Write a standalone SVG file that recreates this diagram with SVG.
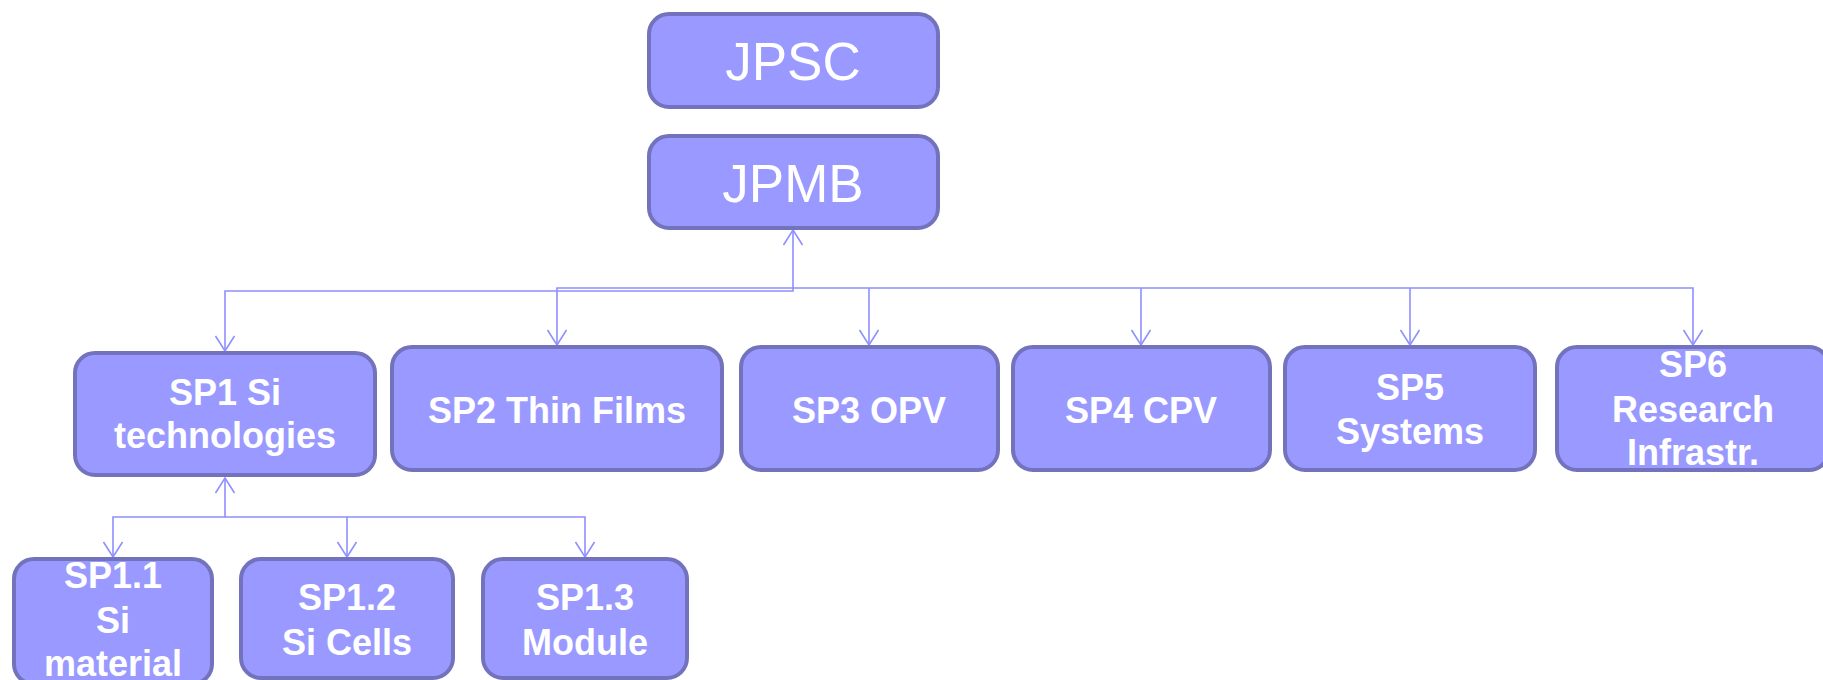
<svg xmlns="http://www.w3.org/2000/svg" width="1823" height="680" viewBox="0 0 1823 680">
  <style>
    .box { fill: #9999FF; stroke: #7373BD; stroke-width: 4; }
    .t { fill: #FFFFFF; font-family: "Liberation Sans", Arial, sans-serif; text-anchor: middle; }
    .big { font-size: 53px; }
    .sp { font-size: 36px; font-weight: bold; }
    .link { fill: none; stroke: #8F8FFF; stroke-width: 1.6; }
  </style>
  <defs>
    <marker id="arr" markerUnits="userSpaceOnUse" viewBox="0 0 18 20" markerWidth="18" markerHeight="20" refX="16" refY="10" orient="auto-start-reverse">
      <path d="M1,0.5 L16,10 L1,19.5" fill="none" stroke="#8F8FFF" stroke-width="1.6"/>
    </marker>
  </defs>

  <rect width="1823" height="680" fill="#FFFFFF"/>

  <!-- connectors -->
  <g id="connectors">
    <path class="link" d="M793,230 V291 H225 V351" marker-start="url(#arr)" marker-end="url(#arr)"/>
    <path class="link" d="M793,288 H557 V345" marker-end="url(#arr)"/>
    <path class="link" d="M793,288 H869 V345" marker-end="url(#arr)"/>
    <path class="link" d="M869,288 H1141 V345" marker-end="url(#arr)"/>
    <path class="link" d="M1141,288 H1410 V345" marker-end="url(#arr)"/>
    <path class="link" d="M1410,288 H1693 V345" marker-end="url(#arr)"/>
    <path class="link" d="M225,478 V517 H113 V557" marker-start="url(#arr)" marker-end="url(#arr)"/>
    <path class="link" d="M225,517 H347 V557" marker-end="url(#arr)"/>
    <path class="link" d="M347,517 H585 V557" marker-end="url(#arr)"/>
  </g>

  <g id="jpsc">
    <rect class="box" x="649" y="14" width="289" height="93" rx="20"/>
    <text class="t big" x="793" y="80">JPSC</text>
  </g>
  <g id="jpmb">
    <rect class="box" x="649" y="136" width="289" height="92" rx="20"/>
    <text class="t big" x="793" y="202">JPMB</text>
  </g>

  <g id="sp1">
    <rect class="box" x="75" y="353" width="300" height="122" rx="20"/>
    <text class="t sp" x="225" y="405">SP1 Si</text>
    <text class="t sp" x="225" y="448">technologies</text>
  </g>
  <g id="sp2">
    <rect class="box" x="392" y="347" width="330" height="123" rx="20"/>
    <text class="t sp" x="557" y="423">SP2 Thin Films</text>
  </g>
  <g id="sp3">
    <rect class="box" x="741" y="347" width="257" height="123" rx="20"/>
    <text class="t sp" x="869" y="423">SP3 OPV</text>
  </g>
  <g id="sp4">
    <rect class="box" x="1013" y="347" width="257" height="123" rx="20"/>
    <text class="t sp" x="1141" y="423">SP4 CPV</text>
  </g>
  <g id="sp5">
    <rect class="box" x="1285" y="347" width="250" height="123" rx="20"/>
    <text class="t sp" x="1410" y="400">SP5</text>
    <text class="t sp" x="1410" y="444">Systems</text>
  </g>
  <g id="sp6">
    <rect class="box" x="1557" y="347" width="272" height="123" rx="20"/>
    <text class="t sp" x="1693" y="377">SP6</text>
    <text class="t sp" x="1693" y="422">Research</text>
    <text class="t sp" x="1693" y="465">Infrastr.</text>
  </g>

  <g id="sp1-1">
    <rect class="box" x="14" y="559" width="198" height="125" rx="20"/>
    <text class="t sp" x="113" y="588">SP1.1</text>
    <text class="t sp" x="113" y="633">Si</text>
    <text class="t sp" x="113" y="676">material</text>
  </g>
  <g id="sp1-2">
    <rect class="box" x="241" y="559" width="212" height="119" rx="20"/>
    <text class="t sp" x="347" y="610">SP1.2</text>
    <text class="t sp" x="347" y="655">Si Cells</text>
  </g>
  <g id="sp1-3">
    <rect class="box" x="483" y="559" width="204" height="119" rx="20"/>
    <text class="t sp" x="585" y="610">SP1.3</text>
    <text class="t sp" x="585" y="655">Module</text>
  </g>
</svg>
